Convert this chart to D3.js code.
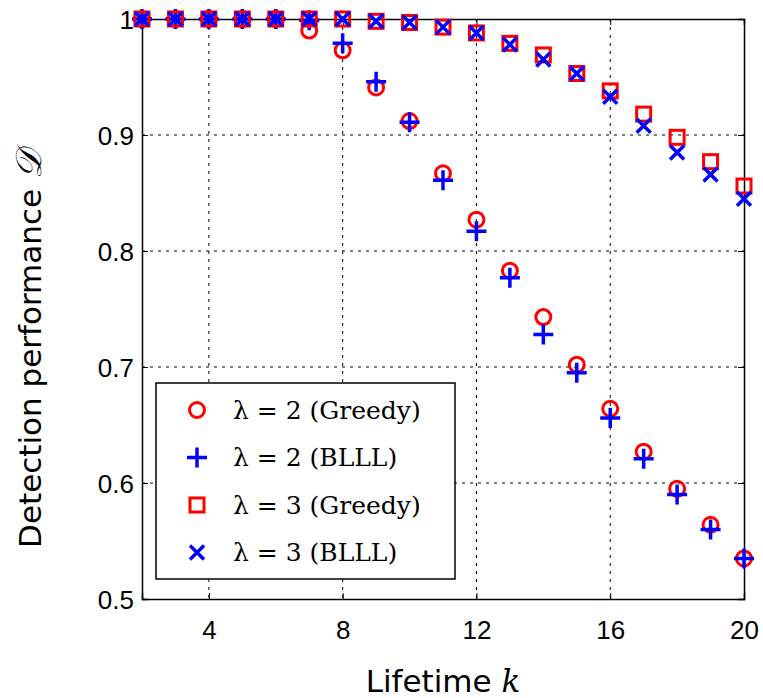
<!DOCTYPE html>
<html lang="en">
<head>
<meta charset="UTF-8">
<title>Detection performance vs lifetime</title>
<script src="https://d3js.org/d3.v7.min.js"></script>
<style>
  body { margin: 0; background: #fff; }
  .tick text { font-family: "Liberation Sans", Arial, sans-serif; font-size: 26px; fill: #000; }
  .leg text { font-family: "DejaVu Serif", "Liberation Serif", serif; font-size: 25px; }
</style>
</head>
<body>
<div id="chart"></div>
<script>
// data
const lifetime = [2, 3, 4, 5, 6, 7, 8, 9, 10, 11, 12, 13, 14, 15, 16, 17, 18, 19, 20];
const greedy2 = [1, 1, 1, 1, 1, 0.990, 0.973, 0.941, 0.912, 0.867, 0.827, 0.783, 0.743, 0.702, 0.664, 0.627, 0.595, 0.564, 0.535];
const blll2   = [1, 1, 1, 1, 1, 0.999, 0.979, 0.946, 0.911, 0.861, 0.817, 0.777, 0.728, 0.695, 0.656, 0.621, 0.590, 0.560, 0.535];
const greedy3 = [1, 1, 1, 1, 1, 1, 1, 0.998, 0.997, 0.993, 0.988, 0.979, 0.969, 0.953, 0.938, 0.918, 0.898, 0.877, 0.856];
const blll3   = [1, 1, 1, 1, 1, 1, 1, 0.998, 0.997, 0.993, 0.988, 0.978, 0.965, 0.953, 0.933, 0.908, 0.885, 0.866, 0.845];
const xTicks = [4, 8, 12, 16, 20];
const yTicks = [0.5, 0.6, 0.7, 0.8, 0.9, 1];
const legendLabels = ["\u03bb\u00a0=\u00a02\u00a0(Greedy)", "\u03bb\u00a0=\u00a02\u00a0(BLLL)", "\u03bb\u00a0=\u00a03\u00a0(Greedy)", "\u03bb\u00a0=\u00a03\u00a0(BLLL)"];

const W = 763, H = 698;
const m = { top: 19, right: 19, bottom: 99, left: 142 };
const w = W - m.left - m.right, h = H - m.top - m.bottom;

const svg = d3.select("#chart").append("svg")
    .attr("width", W).attr("height", H);
const g = svg.append("g").attr("transform", `translate(${m.left},${m.top})`);

const x = d3.scaleLinear().domain([2, 20]).range([0, w]);
const y = d3.scaleLinear().domain([0.5, 1]).range([h, 0]);

// dotted grid
g.append("g").selectAll("line").data(xTicks.filter(d => d < 20)).join("line")
    .attr("x1", d => x(d)).attr("x2", d => x(d)).attr("y1", 0).attr("y2", h)
    .attr("stroke", "#000").attr("stroke-width", 1).attr("stroke-dasharray", "3,5");
g.append("g").selectAll("line").data(yTicks.filter(d => d > 0.5 && d < 1)).join("line")
    .attr("x1", 0).attr("x2", w).attr("y1", d => y(d)).attr("y2", d => y(d))
    .attr("stroke", "#000").attr("stroke-width", 1).attr("stroke-dasharray", "3,5");

// axes, ticks pointing inward, mirrored on top/right
const xAxis = g.append("g").attr("transform", `translate(0,${h})`)
    .call(d3.axisBottom(x).tickValues(xTicks).tickSize(-6).tickPadding(22));
const yAxis = g.append("g")
    .call(d3.axisLeft(y).tickValues(yTicks).tickSize(-6).tickPadding(8).tickFormat(d => d === 1 ? "1" : d3.format(".1f")(d)));
g.append("g").call(d3.axisTop(x).tickValues(xTicks).tickSize(-6).tickFormat(""));
g.append("g").attr("transform", `translate(${w},0)`)
    .call(d3.axisRight(y).tickValues(yTicks).tickSize(-6).tickFormat(""));
g.selectAll(".domain").attr("stroke", "#000").attr("stroke-width", 1.5);
g.selectAll(".tick line").attr("stroke", "#000").attr("stroke-width", 1);
yAxis.selectAll(".tick text").attr("dy", "0.36em");

// markers
const sym = {
    circle: s => s.append("circle").attr("r", 7.5).attr("fill", "none").attr("stroke", "#ff0000").attr("stroke-width", 3),
    plus: s => s.append("path").attr("d", "M-10,0H10M0,-10V10").attr("stroke", "#0000ff").attr("stroke-width", 3.5),
    square: s => s.append("rect").attr("x", -7).attr("y", -7).attr("width", 14).attr("height", 14)
        .attr("fill", "none").attr("stroke", "#ff0000").attr("stroke-width", 3),
    cross: s => s.append("path").attr("d", "M-7,-7L7,7M-7,7L7,-7").attr("stroke", "#0000ff").attr("stroke-width", 3.5)
};
const series = [
    { vals: greedy2, kind: "circle" },
    { vals: blll2, kind: "plus" },
    { vals: greedy3, kind: "square" },
    { vals: blll3, kind: "cross" }
];
series.forEach(sr => {
    const pts = g.append("g").selectAll("g").data(lifetime.map((k, i) => [k, sr.vals[i]])).join("g")
        .attr("transform", d => `translate(${x(d[0])},${y(d[1])})`);
    sym[sr.kind](pts);
});

// legend
const leg = g.append("g").attr("class", "leg").attr("transform", `translate(${156 - m.left},${383 - m.top})`);
leg.append("rect").attr("width", 299).attr("height", 196)
    .attr("fill", "#fff").attr("stroke", "#000").attr("stroke-width", 1.5);
series.forEach((sr, i) => {
    const row = leg.append("g").attr("transform", `translate(0,${27 + i * 47.5})`);
    sym[sr.kind](row.append("g").attr("transform", "translate(41,0)"));
    row.append("text").attr("x", 77).attr("dy", "0.35em").text(legendLabels[i]);
});

// axis titles
svg.append("text")
    .attr("x", m.left + w / 2).attr("y", 692)
    .attr("text-anchor", "middle")
    .style("font-family", "'DejaVu Sans', sans-serif").style("font-size", "31px")
    .html("Lifetime <tspan font-family='DejaVu Serif, serif' font-style='italic'>k</tspan>");
svg.append("text")
    .attr("transform", `translate(30,${m.top + h / 2 + 40}) rotate(-90)`)
    .attr("text-anchor", "middle").attr("dy", "0.35em")
    .style("font-family", "'DejaVu Sans', sans-serif").style("font-size", "31px")
    .html("Detection performance <tspan font-family='DejaVu Serif, serif' font-style='italic' font-size='36px'>\u{1D49F}</tspan>");
</script>
</body>
</html>
